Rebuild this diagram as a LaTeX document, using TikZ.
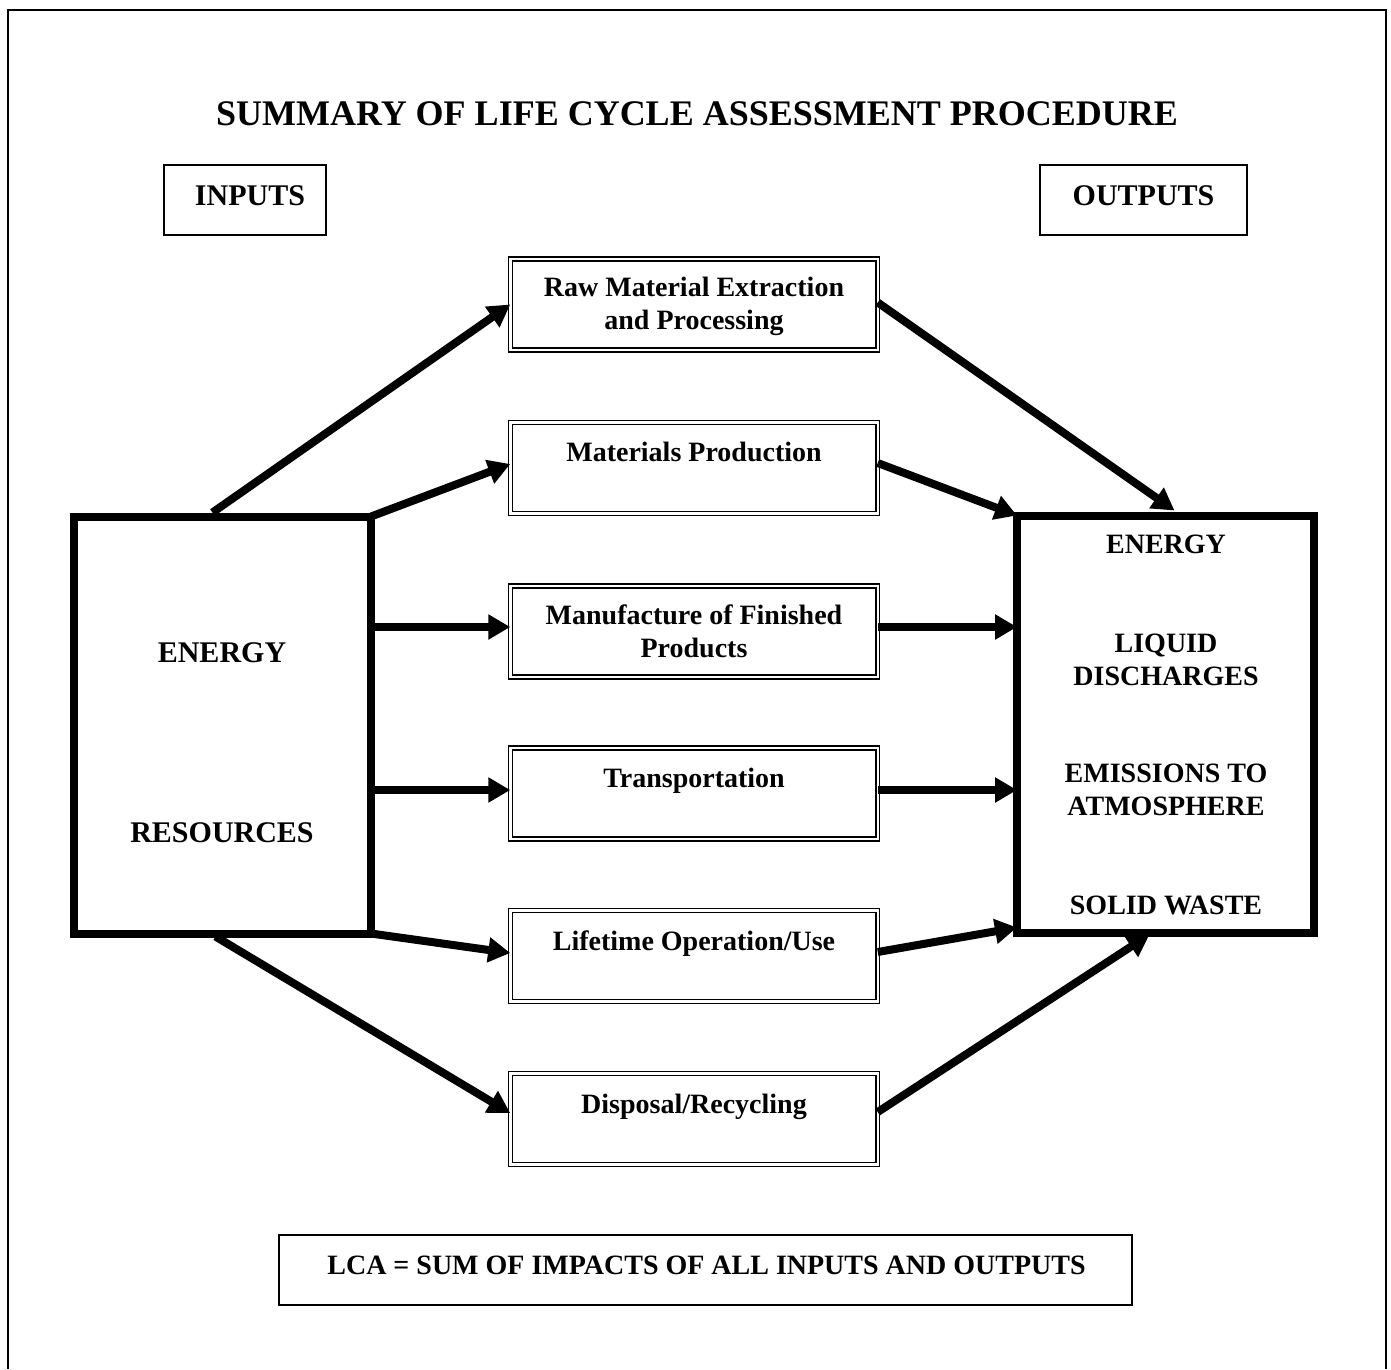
\documentclass[tikz,border=0pt]{standalone}
\usepackage{fontspec}
\setmainfont{Liberation Serif}
\usetikzlibrary{arrows.meta,calc}
\begin{document}
\begin{tikzpicture}[x=1pt,y=-1pt,
  every node/.style={inner sep=0pt,outer sep=0pt},
  thinbox/.style={draw,line width=1.5pt,minimum height=70pt},
  dbox/.style={draw,double,double distance=2.5pt,line width=1.4pt,minimum width=367.5pt,minimum height=91pt},
  bigbox/.style={draw,line width=8pt,minimum width=297pt,minimum height=417pt},
  arr/.style={line width=8pt,-{Triangle[length=22pt,width=24pt]}},
  lbl/.style={font=\bfseries\fontsize{28}{33}\selectfont,anchor=base},
  biglbl/.style={font=\bfseries\fontsize{30}{36}\selectfont,anchor=base},
  titlelbl/.style={font=\bfseries\fontsize{36}{42}\selectfont,anchor=base}]
\useasboundingbox (0,0) rectangle (1391,1369);
% outer frame (no bottom edge)
\draw[line width=2pt] (8,1369) -- (8,10) -- (1386,10) -- (1386,1369);
% title
\node[titlelbl] (title) at (697,125) {SUMMARY OF LIFE CYCLE ASSESSMENT PROCEDURE};
% inputs / outputs
\node[thinbox,minimum width=162pt] (inp) at (245,200) {};
\node[biglbl] (inptxt) at (250,205) {INPUTS};
\node[thinbox,minimum width=207pt] (outp) at (1143.5,200) {};
\node[biglbl] (outptxt) at (1143.5,205) {OUTPUTS};
% big boxes
\node[bigbox] (L) at (222.5,725) {};
\node[biglbl] (Le) at (222,662) {ENERGY};
\node[biglbl] (Lr) at (222,842) {RESOURCES};
\node[bigbox] (R) at (1165.5,724) {};
\node[lbl] (R1) at (1166,553) {ENERGY};
\node[lbl] (R2) at (1166,652) {LIQUID};
\node[lbl] (R3) at (1166,685) {DISCHARGES};
\node[lbl] (R4) at (1166,782) {EMISSIONS TO};
\node[lbl] (R5) at (1166,815) {ATMOSPHERE};
\node[lbl] (R6) at (1166,914) {SOLID WASTE};
% middle boxes
\node[dbox] (raw) at (694,304.5) {};
\node[lbl] (raw1) at (694,296) {Raw Material Extraction};
\node[lbl] (raw2) at (694,329) {and Processing};
\node[dbox] (mat) at (694,468) {};
\node[lbl] (mat1) at (694,461) {Materials Production};
\node[dbox] (man) at (694,631.5) {};
\node[lbl] (man1) at (694,624) {Manufacture of Finished};
\node[lbl] (man2) at (694,657) {Products};
\node[dbox] (tra) at (694,793.5) {};
\node[lbl] (tra1) at (694,787) {Transportation};
\node[dbox] (life) at (694,956) {};
\node[lbl] (life1) at (694,950) {Lifetime Operation/Use};
\node[dbox] (disp) at (694,1119) {};
\node[lbl] (disp1) at (694,1113) {Disposal/Recycling};
% bottom summary
\node[thinbox,minimum width=853pt] (lca) at (705.5,1270) {};
\node[lbl] (lcatxt) at (706.5,1274) {LCA = SUM OF IMPACTS OF ALL INPUTS AND OUTPUTS};
% connection points
\coordinate (Ltop) at ($(L.north)+(-10,-4)$);
\coordinate (Lbot) at ($(L.south)+(-7,3)$);
\coordinate (Rtop) at ($(R.north)+(9,-5)$);
\coordinate (Rbot) at ($(R.south)+(-16,2)$);
% input arrows
\draw[arr] (Ltop) -- (raw.west);
\draw[arr] (L.north east) -- ($(mat.west)+(0,-4)$);
\draw[arr] (L.east |- 0,627) -- (man.west |- 0,627);
\draw[arr] (L.east |- 0,790) -- (tra.west |- 0,790);
\draw[arr] (L.south east) -- ($(life.west)+(0,-3)$);
\draw[arr] (Lbot) -- ($(disp.west)+(0,-6)$);
% output arrows
\draw[arr] ($(raw.east)+(0,-2)$) -- (Rtop);
\draw[arr] ($(mat.east)+(0,-5)$) -- (R.north west);
\draw[arr] (man.east |- 0,627) -- (R.west |- 0,627);
\draw[arr] (tra.east |- 0,790) -- (R.west |- 0,790);
\draw[arr] ($(life.east)+(0,-4)$) -- ($(R.south west)+(0,-5)$);
\draw[arr] ($(disp.east)+(0,-7)$) -- (Rbot);
\end{tikzpicture}
\end{document}
